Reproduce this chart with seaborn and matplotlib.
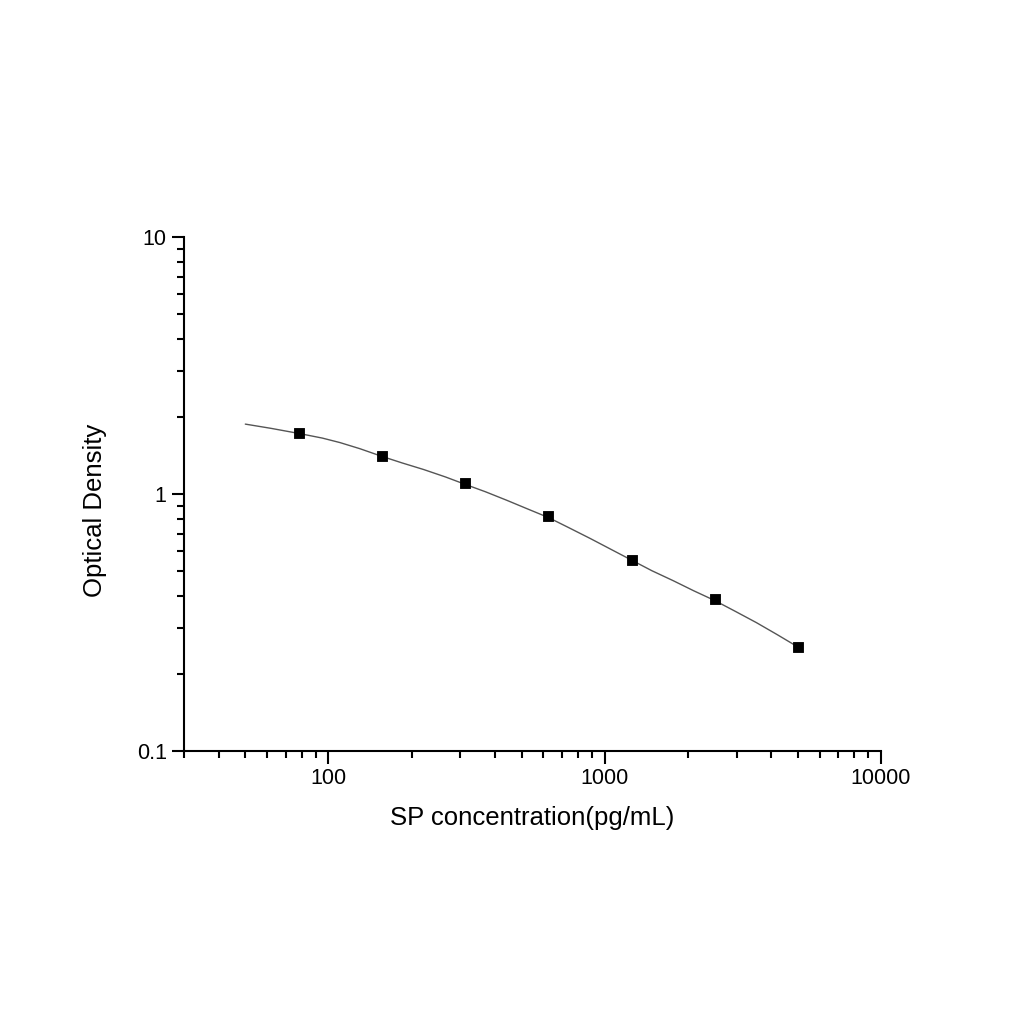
import pandas as pd
import matplotlib
matplotlib.use("Agg")
import matplotlib.pyplot as plt
import seaborn as sns
from matplotlib.ticker import LogLocator, NullFormatter, FixedLocator, FixedFormatter

# standard points
conc = [78.125, 156.25, 312.5, 625, 1250, 2500, 5000]
od = [1.73, 1.40, 1.10, 0.82, 0.553, 0.39, 0.254]

# fitted curve
curve_conc = [50, 62, 78.125, 95, 110, 130, 156.25, 185, 221, 265, 312.5, 370, 442, 525, 625,
              740, 884, 1050, 1250, 1480, 1768, 2100, 2500, 2960, 3536, 4200, 5000]
curve_od = [1.87, 1.80, 1.72, 1.65, 1.585, 1.50, 1.40, 1.32, 1.245, 1.165, 1.09, 1.02, 0.945, 0.875, 0.81,
            0.74, 0.672, 0.61, 0.553, 0.503, 0.46, 0.42, 0.385, 0.35, 0.316, 0.284, 0.254]

pts = pd.DataFrame({"conc": conc, "od": od})
fit = pd.DataFrame({"conc": curve_conc, "od": curve_od})

sns.set_style("ticks")
plt.rcParams["font.family"] = ["Liberation Sans", "DejaVu Sans"]
plt.rcParams["text.color"] = "black"
plt.rcParams["axes.labelcolor"] = "black"
plt.rcParams["xtick.color"] = "black"
plt.rcParams["ytick.color"] = "black"

fig = plt.figure(figsize=(10.24, 10.24), dpi=100)
ax = fig.add_axes([0.1797, 0.2666, 0.6807, 0.502])

sns.lineplot(data=fit, x="conc", y="od", ax=ax, color="#555555", linewidth=1, sort=False)
sns.scatterplot(data=pts, x="conc", y="od", ax=ax, marker="s", color="black", s=60, edgecolor="black", zorder=3)

ax.set_xscale("log")
ax.set_yscale("log")
ax.set_xlim(30, 10000)
ax.set_ylim(0.1, 10)

ax.xaxis.set_major_locator(FixedLocator([100, 1000, 10000]))
ax.xaxis.set_major_formatter(FixedFormatter(["100", "1000", "10000"]))
ax.xaxis.set_minor_locator(LogLocator(base=10, subs=range(2, 10), numticks=20))
ax.xaxis.set_minor_formatter(NullFormatter())
ax.yaxis.set_major_locator(FixedLocator([0.1, 1, 10]))
ax.yaxis.set_major_formatter(FixedFormatter(["0.1", "1", "10"]))
ax.yaxis.set_minor_locator(LogLocator(base=10, subs=range(2, 10), numticks=20))
ax.yaxis.set_minor_formatter(NullFormatter())

ax.tick_params(which="major", direction="out", length=9, width=1.5, labelsize=15.5, colors="black")
ax.tick_params(which="minor", direction="out", length=5, width=1.5, colors="black")
for s in ["left", "bottom"]:
    ax.spines[s].set_linewidth(1.5)
    ax.spines[s].set_color("black")
sns.despine(ax=ax)

ax.set_xlabel("SP concentration(pg/mL)", fontsize=18.5, labelpad=12)
ax.set_ylabel("Optical Density", fontsize=18.5)
ax.yaxis.set_label_coords(-0.11, 0.469)

fig.savefig("out.png", dpi=100)
